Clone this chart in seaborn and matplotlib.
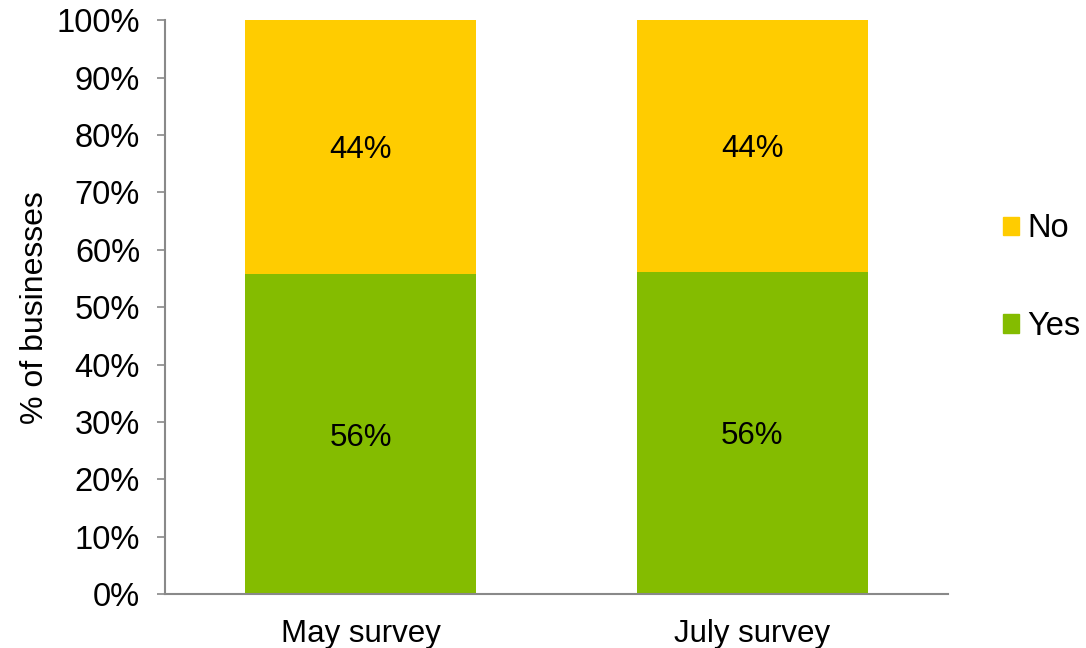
import matplotlib
matplotlib.use("Agg")
import matplotlib.pyplot as plt
import matplotlib.patches as mpatches
from matplotlib.ticker import FuncFormatter
import numpy as np
import pandas as pd
import seaborn as sns

# Share of businesses answering Yes / No in each survey wave
surveys = ["May survey", "July survey"]
yes_pct = [55.8, 56.2]
no_pct = [44.2, 43.8]

GREEN = "#84BC00"
YELLOW = "#FFCC00"
AXIS_GREY = "#898989"

sns.set_theme(style="white")
plt.rcParams["font.family"] = ["Liberation Sans", "DejaVu Sans"]
plt.rcParams["text.color"] = "black"
plt.rcParams["axes.labelcolor"] = "black"
plt.rcParams["xtick.color"] = "black"
plt.rcParams["ytick.color"] = "black"

df = pd.DataFrame({"survey": surveys, "yes": yes_pct, "no": no_pct})
df["total"] = df["yes"] + df["no"]

fig = plt.figure(figsize=(10.86, 6.48), dpi=100)
ax = fig.add_axes([0.152, 0.083, 0.721, 0.886])

# Stacked bars: full stack in yellow, Yes segment overlaid in green
sns.barplot(data=df, x="survey", y="total", order=surveys, color=YELLOW,
            width=0.59, saturation=1, ax=ax, linewidth=0)
sns.barplot(data=df, x="survey", y="yes", order=surveys, color=GREEN,
            width=0.59, saturation=1, ax=ax, linewidth=0)

for i, (y, n) in enumerate(zip(df["yes"], df["no"])):
    ax.text(i, y / 2, f"{y:.0f}%", ha="center", va="center_baseline",
            fontsize=22.5, color="black")
    ax.text(i, y + n / 2, f"{n:.0f}%", ha="center", va="center_baseline",
            fontsize=22.5, color="black")

ax.set_ylim(0, 100)
ax.set_xlim(-0.5, 1.5)
ax.set_yticks(np.arange(0, 101, 10))
ax.yaxis.set_major_formatter(FuncFormatter(lambda v, _: f"{v:.0f}%"))

for side in ["top", "right"]:
    ax.spines[side].set_visible(False)
for side in ["left", "bottom"]:
    ax.spines[side].set_color(AXIS_GREY)
    ax.spines[side].set_linewidth(1.5)

ax.tick_params(axis="y", which="major", length=6, width=1.2, color=AXIS_GREY,
               labelcolor="black", labelsize=23.5, pad=12, left=True, direction="out")
ax.tick_params(axis="x", length=0, labelsize=22.5, labelcolor="black", pad=18)

ax.set_xlabel("")
ax.set_ylabel("% of businesses", fontsize=23, labelpad=5, color="black")

handles = [mpatches.Patch(color=YELLOW, label="No"),
           mpatches.Patch(color=GREEN, label="Yes")]
leg = ax.legend(handles=handles, loc="center left", bbox_to_anchor=(1.053, 0.551),
                frameon=False, fontsize=23.5, handlelength=0.5, handleheight=0.5,
                handletextpad=0.25, labelspacing=2.05, borderaxespad=0)
for t in leg.get_texts():
    t.set_color("black")

fig.savefig("out.png", dpi=100)
